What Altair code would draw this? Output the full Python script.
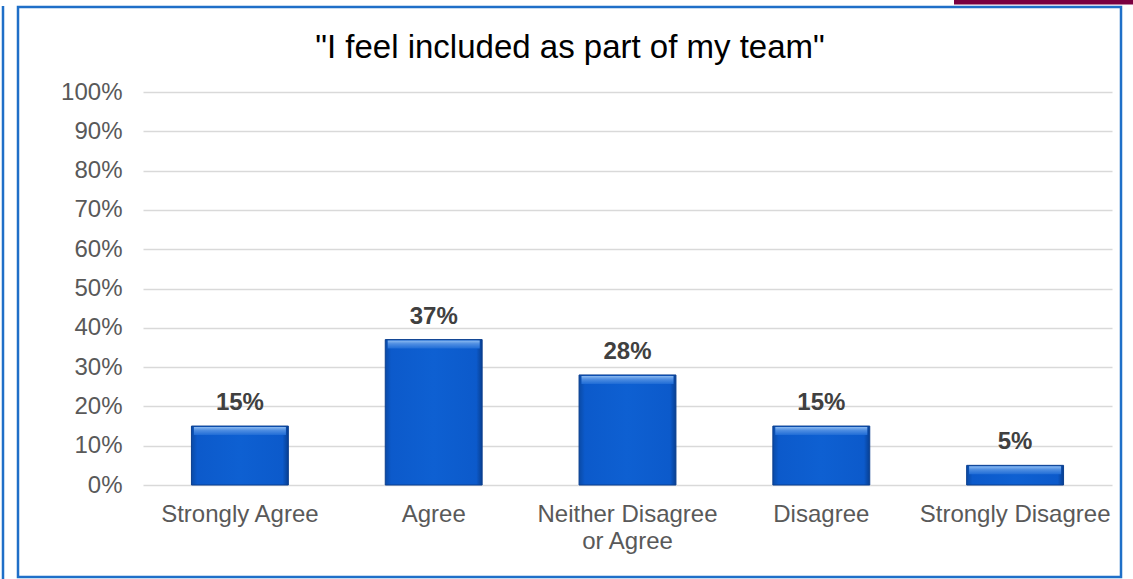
import altair as alt
import pandas as pd

categories = ["Strongly Agree", "Agree", "Neither Disagree or Agree", "Disagree", "Strongly Disagree"]
values = [15, 37, 28, 15, 5]
labels = ["15%", "37%", "28%", "15%", "5%"]
y_ticks = [0, 10, 20, 30, 40, 50, 60, 70, 80, 90, 100]
title_text = '"I feel included as part of my team"'

df = pd.DataFrame({"cat": categories, "val": values, "lab": labels})

FONT = "Liberation Sans"
W, H = 969, 393
PL, PT, PR, PB = 143, 92, 21, 94

x_enc = alt.X(
    "cat:N",
    sort=categories,
    scale=alt.Scale(paddingInner=0.5, paddingOuter=0.25),
    axis=alt.Axis(
        title=None, labelAngle=0, labelFontSize=24, labelFont=FONT, labelColor="#595959",
        labelPadding=17, labelLimit=0, domain=False, ticks=False, tickSize=0,
        labelLineHeight=27, labelBaseline="top", labelOverlap=False,
        labelExpr="datum.value == 'Neither Disagree or Agree' ? ['Neither Disagree', 'or Agree'] : datum.value",
    ),
)
y_enc = alt.Y(
    "val:Q",
    scale=alt.Scale(domain=[0, 100], nice=False),
    axis=alt.Axis(
        title=None, values=y_ticks, tickCount=20, labelExpr="datum.value + '%'", labelFontSize=24,
        labelFont=FONT, labelColor="#595959", labelPadding=21, domain=False, ticks=False,
        tickSize=0, grid=True, gridColor="#d9d9d9", gridWidth=1.5, labelOverlap=False,
    ),
)

body_grad = alt.Gradient(
    gradient="linear", x1=0, x2=1, y1=0, y2=0,
    stops=[
        alt.GradientStop(color="#0a4aa6", offset=0),
        alt.GradientStop(color="#0c5acb", offset=0.06),
        alt.GradientStop(color="#0e60d2", offset=0.5),
        alt.GradientStop(color="#0c5acb", offset=0.94),
        alt.GradientStop(color="#083f92", offset=1),
    ],
)
top_grad = alt.Gradient(
    gradient="linear", x1=0, x2=0, y1=0, y2=1,
    stops=[
        alt.GradientStop(color="#8ab9f0", offset=0),
        alt.GradientStop(color="#4f8ee2", offset=0.4),
        alt.GradientStop(color="#1f6cd6", offset=1),
    ],
)

bars = alt.Chart(df).mark_bar(fill=body_grad, stroke="#0b3f8f", strokeWidth=1).encode(x=x_enc, y=y_enc)
bevel = alt.Chart(df).mark_tick(
    orient="horizontal", thickness=8, size=92, fill=top_grad, yOffset=5, opacity=1
).encode(x=x_enc, y=y_enc)
text = alt.Chart(df).mark_text(
    font=FONT, fontSize=24, fontWeight="bold", color="#404040", baseline="alphabetic", dy=-16
).encode(x=x_enc, y=y_enc, text="lab:N")

one = alt.Data(values=[{"t": title_text}])
title = alt.Chart(one).mark_text(
    font=FONT, fontSize=33, color="#000000", baseline="alphabetic", align="center"
).encode(x=alt.value(570 - PL), y=alt.value(58 - PT), text="t:N")
frame = alt.Chart(one).mark_rect(fillOpacity=0, stroke="#1f6fc8", strokeWidth=2.5).encode(
    x=alt.value(18 - PL), x2=alt.value(1121 - PL), y=alt.value(7 - PT), y2=alt.value(577 - PT)
)
left_line = alt.Chart(one).mark_rule(stroke="#1f6fc8", strokeWidth=2.5).encode(
    x=alt.value(3 - PL), y=alt.value(6 - PT), y2=alt.value(579 - PT)
)
maroon = alt.Chart(one).mark_rect(fill="#7a0040").encode(
    x=alt.value(954 - PL), x2=alt.value(1133 - PL), y=alt.value(0 - PT), y2=alt.value(4.5 - PT)
)

chart = alt.layer(bars, bevel, text, title, frame, left_line, maroon).properties(
    width=W, height=H,
    autosize=alt.AutoSizeParams(type="none"),
    padding={"left": PL, "top": PT, "right": PR, "bottom": PB},
    background="white",
).configure_view(stroke=None)

chart.save("out.html", embed_options={"renderer": "svg", "actions": False})
